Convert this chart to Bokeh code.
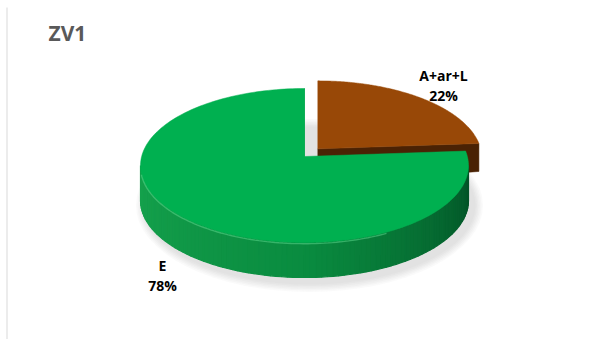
import numpy as np
from bokeh.plotting import figure
from bokeh.models import Range1d
from bokeh.core.properties import value
from bokeh.embed import file_html
from bokeh.resources import INLINE

# ---- data ----
title = "ZV1"
categories = ["A+ar+L", "E"]
values = [22, 78]
explode = [1, 0]
top_colors = ["#984807", "#00B050"]
side_colors = ["#4A2204", "#0B8A3F"]

# ---- layout / geometry (pixel coords) ----
W, H = 587, 339
cx, cy = 304.0, 165.0      # top-face ellipse centre
a, b = 164.0, 77.0         # ellipse semi-axes
vshift = 9.0               # perspective shift of the pie centre
depth = 35.0
explode_dist = 22.0

p = figure(width=W, height=H, x_range=Range1d(0, W), y_range=Range1d(H, 0),
           output_backend="svg", toolbar_location=None, min_border=0,
           x_axis_type=None, y_axis_type=None)
p.grid.visible = False
p.outline_line_color = None
p.background_fill_color = "white"
p.border_fill_color = "white"

def rim(theta, ox=0.0, oy=0.0, dz=0.0):
    t = np.radians(theta)
    return cx + ox + a * np.cos(t), cy + oy - b * np.sin(t) + dz

def vertex(ox=0.0, oy=0.0, dz=0.0):
    return cx + ox, cy - vshift + oy + dz

total = float(sum(values))
cum = np.concatenate([[0.0], np.cumsum(values)]) / total
starts = 90.0 - 360.0 * cum[:-1]
ends = 90.0 - 360.0 * cum[1:]

offsets = []
for i in range(len(values)):
    mid = np.radians((starts[i] + ends[i]) / 2.0)
    e = explode_dist * explode[i]
    offsets.append((e * np.cos(mid) * 0.95, -e * np.sin(mid) * 0.45))

# shadow
for k in range(6):
    p.ellipse(x=[cx + 5], y=[cy + depth + 5], width=[2 * a + 4 + 3 * k], height=[2 * b + 4 + 3 * k],
              fill_color="#808080", fill_alpha=0.045, line_color=None)

order = [0, 1]
for i in order:
    ox, oy = offsets[i]
    s, e_ = starts[i], ends[i]
    # radial cut face at end angle (visible from front)
    vx0, vy0 = vertex(ox, oy)
    rx0, ry0 = rim(e_, ox, oy)
    p.patch([vx0, rx0, rx0, vx0], [vy0, ry0, ry0 + depth * 0.8, vy0 + depth],
            fill_color=side_colors[i], line_color=side_colors[i], line_width=0.5)
    # outer side (front half only)
    lo, hi = min(s, e_), max(s, e_)
    seg = []
    for base in (-360.0, 0.0, 360.0):
        l2, h2 = max(lo, 180 + base), min(hi, 360 + base)
        if h2 > l2:
            seg.append((l2, h2, base))
    for l2, h2, base in seg:
        n = max(2, int((h2 - l2) / 2))
        th = np.linspace(l2, h2, n + 1)
        for j in range(n):
            t = ((th[j] + th[j + 1]) / 2 - base - 180) / 180.0
            c0 = np.array([0x16, 0xA3, 0x4E]); c1 = np.array([0x0A, 0x8C, 0x40]); c2 = np.array([0x03, 0x52, 0x27])
            col = c0 + (c1 - c0) * (t / 0.5) if t < 0.5 else c1 + (c2 - c1) * ((t - 0.5) / 0.5)
            hexc = "#%02x%02x%02x" % tuple(int(v) for v in col)
            xa, ya = rim(th[j], ox, oy)
            xb, yb = rim(th[j + 1], ox, oy)
            p.patch([xa, xb, xb, xa], [ya, yb, yb + depth, ya + depth],
                    fill_color=hexc, line_color=hexc, line_width=1.2)
    # top face
    th = np.linspace(s, e_, 200)
    rx, ry = rim(th, ox, oy)
    vx, vy = vertex(ox, oy)
    p.patch(np.concatenate([[vx], rx]), np.concatenate([[vy], ry]),
            fill_color=top_colors[i], line_color=top_colors[i], line_width=0.5)
    if i == 1:
        th = np.linspace(186, 300, 80)
        hx, hy = rim(th, ox, oy)
        p.line(hx, hy + 1.2, line_color="#5ad68a", line_width=1.4, line_alpha=0.55)

# labels
label_pos = {"A+ar+L": (443, 75), "E": (162, 265)}
for i, cat in enumerate(categories):
    lx, ly = label_pos[cat]
    pct = "%d%%" % round(100 * values[i] / total)
    p.text(x=[lx, lx], y=[ly, ly + 20], text=[cat, pct], text_align="center", text_baseline="middle",
           text_font=value("Open Sans"), text_font_style="bold", text_font_size="14px",
           text_color="#000000")

# title
p.text(x=[48], y=[32], text=[title], text_align="left", text_baseline="alphabetic",
       text_font=value("Open Sans"), text_font_style="bold", text_font_size="21px",
       text_color="#595959")

# chart border (left edge)
p.line(x=[6.5, 6.5], y=[7, H], line_color="#D9D9D9", line_width=1)

open("out.html", "w").write(file_html(p, INLINE))
